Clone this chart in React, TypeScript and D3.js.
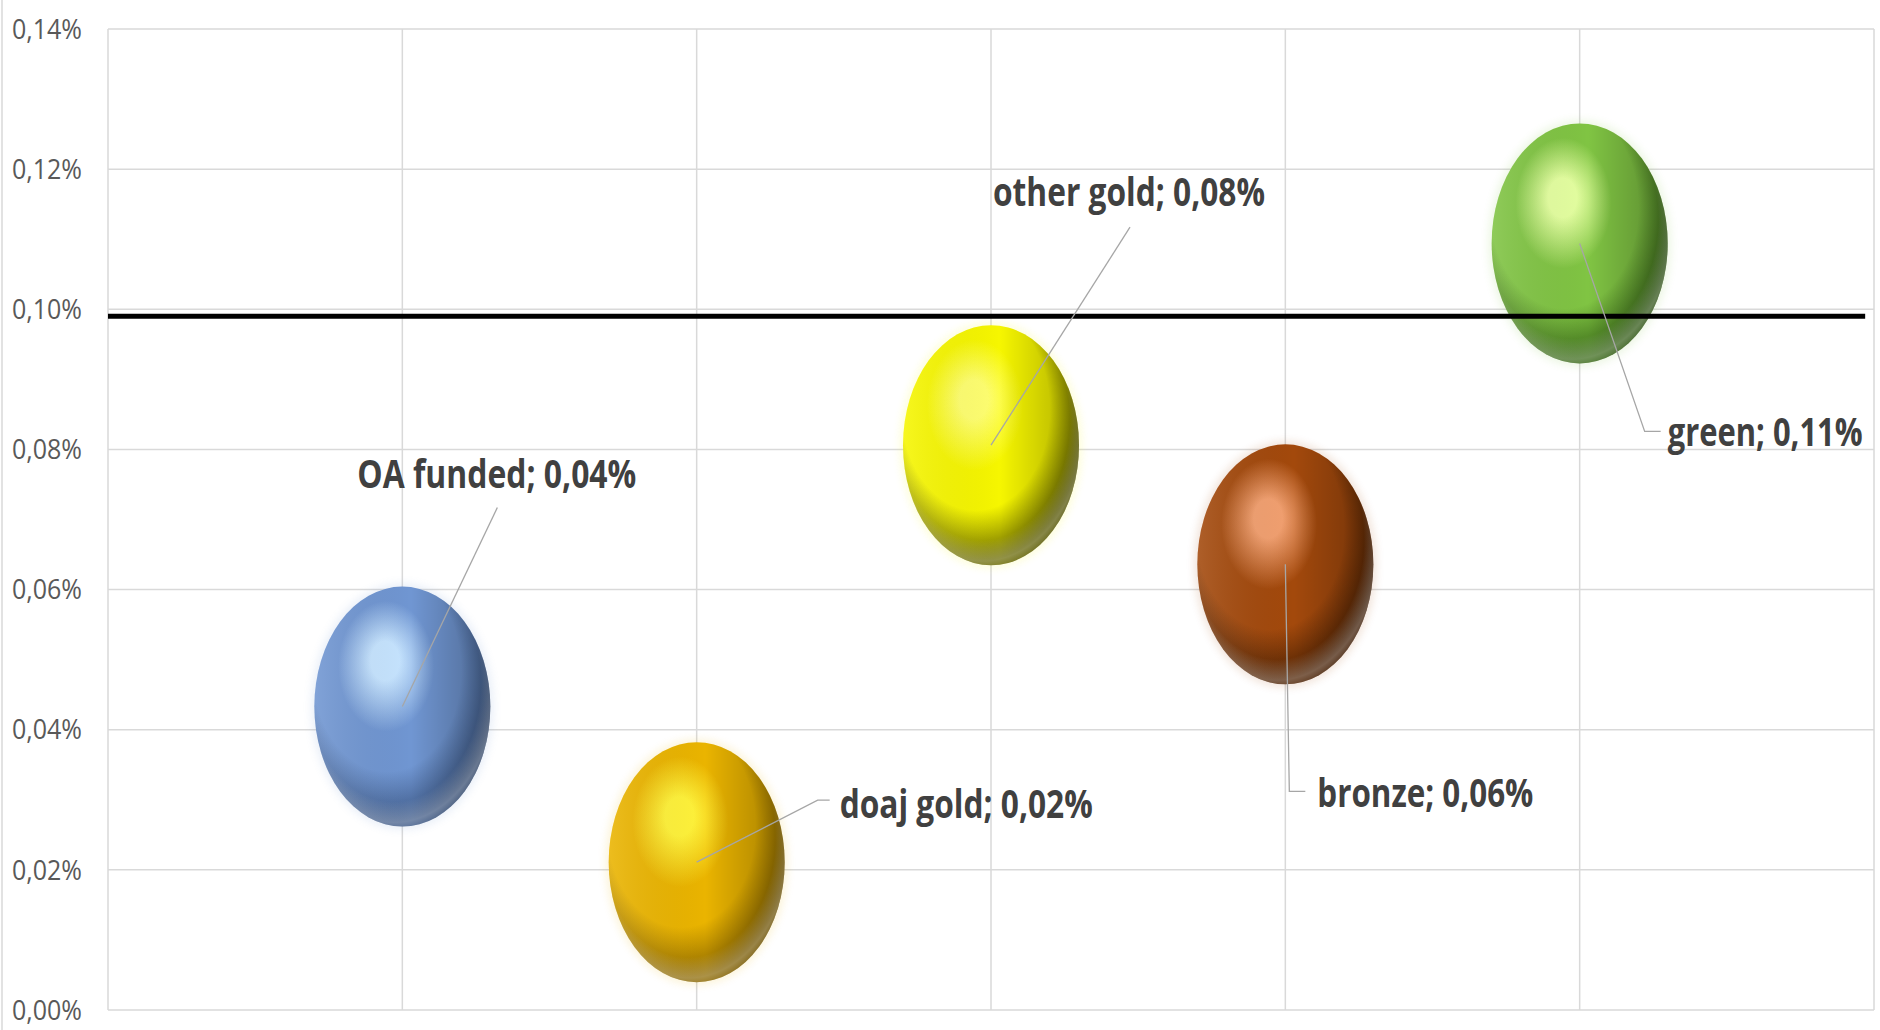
import React from "react";
import * as d3 from "d3";

const categories = ["OA funded", "doaj gold", "other gold", "bronze", "green"];
const xValues = [1, 2, 3, 4, 5];
const yValues = [0.0433, 0.0211, 0.0806, 0.0636, 0.1094];
const yTicks = [0, 0.02, 0.04, 0.06, 0.08, 0.1, 0.12, 0.14];
const xGrid = [0, 1, 2, 3, 4, 5, 6];
const threshold = 0.099;
const thresholdSpan = [0, 5.97];

// colours: [highlight, base, dark]
const bubbleColors = [
  ["#c6e4ff", "#7096d2", "#3e5a88"],
  ["#fff23a", "#eab400", "#8c6800"],
  ["#ffff70", "#f6f600", "#6a6a00"],
  ["#f2a070", "#a3490c", "#4e2203"],
  ["#e4ffa0", "#80c443", "#3a6a18"],
];

// label layout offsets relative to bubble centre (px)
const labelPos = [
  { dx: -45, dy: -219, w: 279, leader: [[95, -199]] },
  { dx: 143, dy: -44, w: 253, leader: [[121, -62], [133, -62]] },
  { dx: 2, dy: -239, w: 272, leader: [[139, -218]] },
  { dx: 32, dy: 243, w: 216, leader: [[4, 227], [20, 227]] },
  { dx: 88, dy: 203, w: 195, leader: [[65, 188], [81, 188]] },
];

const W = 1880;
const H = 1030;
const M = { left: 108, right: 1874, top: 29, bottom: 1010 };
const RX = 88;
const RY = 120;
const SX = 0.72;

const fmt = (v: number) => v.toFixed(2).replace(".", ",") + "%";

export default function App() {
  const x = d3.scaleLinear().domain([0, 6]).range([M.left, M.right]);
  const y = d3.scaleLinear().domain([0, 0.14]).range([M.bottom, M.top]);
  const line = d3.line();

  return (
    <svg
      width={W}
      height={H}
      style={{ position: "absolute", left: 0, top: 0, display: "block", background: "#fff" }}
    >
      <defs>
        {bubbleColors.map((c, i) => (
          <radialGradient key={i} id={`g${i}`} cx="0.42" cy="0.38" r="0.68" fx="0.4" fy="0.3">
            <stop offset="0" stopColor={c[0]} />
            <stop offset="0.12" stopColor={c[0]} stopOpacity="1" />
            <stop offset="0.4" stopColor={c[1]} />
            <stop offset="0.62" stopColor={c[1]} />
            <stop offset="0.9" stopColor={c[2]} />
            <stop offset="1" stopColor={c[2]} />
          </radialGradient>
        ))}
        <linearGradient id="side" x1="0" x2="1" y1="0" y2="0">
          <stop offset="0" stopColor="#fff" stopOpacity="0.12" />
          <stop offset="0.55" stopColor="#000" stopOpacity="0" />
          <stop offset="1" stopColor="#000" stopOpacity="0.3" />
        </linearGradient>
        <radialGradient id="rim" cx="0.45" cy="0.4" r="0.62">
          <stop offset="0.8" stopColor="#fff" stopOpacity="0" />
          <stop offset="0.94" stopColor="#fff" stopOpacity="0.28" />
          <stop offset="1" stopColor="#fff" stopOpacity="0.12" />
        </radialGradient>
        <filter id="glow" x="-20%" y="-20%" width="140%" height="140%">
          <feGaussianBlur stdDeviation="4" />
        </filter>
      </defs>
      <rect x={0} y={0} width={W} height={H} fill="#fff" />
      <line x1={2} x2={2} y1={0} y2={H} stroke="#d9d9d9" strokeWidth={1.5} />

      {yTicks.map((t) => (
        <g key={t}>
          <line x1={M.left} x2={M.right} y1={y(t)} y2={y(t)} stroke="#d9d9d9" strokeWidth={1.5} />
          <text
            x={82}
            y={y(t)}
            dy="0.36em"
            textAnchor="end"
            fontFamily="'Open Sans', sans-serif"
            fontSize={27}
            fill="#595959"
            textLength={70}
            lengthAdjust="spacingAndGlyphs"
          >
            {fmt(t)}
          </text>
        </g>
      ))}
      {xGrid.map((g) => (
        <line key={g} x1={x(g)} x2={x(g)} y1={M.top} y2={M.bottom} stroke="#d9d9d9" strokeWidth={1.5} />
      ))}

      {categories.map((c, i) => {
        const cx = x(xValues[i]);
        const cy = y(yValues[i]);
        return (
          <g key={c}>
            <ellipse cx={cx} cy={cy} rx={RX + 3} ry={RY + 3} fill={bubbleColors[i][1]} opacity={0.15} filter="url(#glow)" />
            <ellipse cx={cx} cy={cy} rx={RX} ry={RY} fill={`url(#g${i})`} />
            <ellipse cx={cx} cy={cy} rx={RX} ry={RY} fill="url(#side)" />
            <ellipse cx={cx} cy={cy} rx={RX} ry={RY} fill="url(#rim)" />
          </g>
        );
      })}

      <line
        x1={x(thresholdSpan[0])}
        x2={x(thresholdSpan[1])}
        y1={y(threshold)}
        y2={y(threshold)}
        stroke="#000"
        strokeWidth={5}
      />

      {categories.map((c, i) => {
        const cx = x(xValues[i]);
        const cy = y(yValues[i]);
        const p = labelPos[i];
        const pts: [number, number][] = [[cx, cy], ...p.leader.map(([a, b]) => [cx + a, cy + b] as [number, number])];
        return (
          <g key={c}>
            <path d={line(pts) || ""} fill="none" stroke="#a6a6a6" strokeWidth={1.3} />
            <g transform={`translate(${cx + p.dx},${cy + p.dy}) scale(${SX},1)`}>
              <text
                x={0}
                y={0}
                fontFamily="'Open Sans', sans-serif"
                fontWeight={700}
                fontSize={39}
                fill="#404040"
                textLength={p.w / SX}
                lengthAdjust="spacingAndGlyphs"
              >
                {`${c}; ${fmt(yValues[i])}`}
              </text>
            </g>
          </g>
        );
      })}
    </svg>
  );
}
